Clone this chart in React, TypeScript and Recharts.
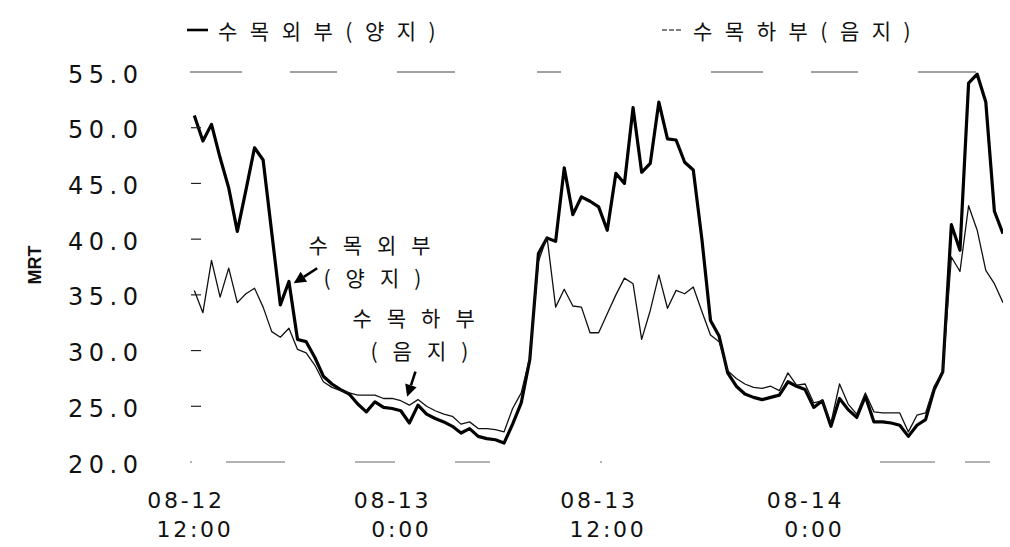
import React from 'react';
import { LineChart, Line, XAxis, YAxis, ReferenceLine, ReferenceDot, Legend } from 'recharts';

// time of first reading (hours after 08-12 0:00) and reading interval (hours)
const START_HOUR = 12.25;
const STEP_HOURS = 0.5;

const seriesNames = ['수목외부(양지)', '수목하부(음지)'];

// 수목외부(양지) MRT
const sunnyOutside = [
  51.1, 48.8, 50.3, 47.3, 44.6, 40.7, 44.4, 48.2, 47.1, 40.6,
  34.1, 36.2, 31.0, 30.8, 29.4, 27.7, 27.0, 26.5, 26.1, 25.2,
  24.5, 25.4, 24.9, 24.8, 24.6, 23.5, 25.1, 24.3, 23.9, 23.6,
  23.2, 22.6, 23.0, 22.3, 22.1, 22.0, 21.7, 23.4, 25.3, 29.2,
  38.7, 40.1, 39.8, 46.4, 42.2, 43.8, 43.4, 42.9, 40.8, 45.9,
  45.0, 51.8, 46.0, 46.8, 52.3, 49.0, 48.9, 46.9, 46.2, 40.0,
  32.7, 31.3, 28.0, 26.8, 26.1, 25.8, 25.6, 25.8, 26.0, 27.2,
  26.8, 26.5, 24.9, 25.5, 23.2, 25.7, 24.7, 24.0, 25.9, 23.6,
  23.6, 23.5, 23.3, 22.3, 23.3, 23.8, 26.5, 28.1, 41.3, 39.0,
  54.0, 54.8, 52.3, 42.5, 40.5,
];

// 수목하부(음지) MRT
const shadeUnder = [
  35.4, 33.4, 38.1, 34.8, 37.4, 34.3, 35.1, 35.6, 33.9, 31.7,
  31.2, 32.0, 30.1, 29.8, 28.7, 27.2, 26.7, 26.4, 26.2, 26.0,
  26.0, 26.0, 25.7, 25.7, 25.5, 25.1, 25.6, 25.0, 24.6, 24.3,
  24.1, 23.4, 23.6, 23.0, 23.0, 22.9, 22.7, 24.8, 26.2, 29.4,
  38.0, 40.2, 33.9, 35.5, 34.0, 33.9, 31.6, 31.6, 33.3, 35.0,
  36.5, 36.0, 31.0, 33.6, 36.8, 33.8, 35.4, 35.1, 35.7, 33.5,
  31.4, 30.8, 28.2, 27.5, 27.0, 26.7, 26.6, 26.8, 26.4, 28.0,
  26.9, 27.0, 25.3, 25.5, 23.5, 27.0, 25.2, 24.3, 26.2, 24.5,
  24.4, 24.4, 24.4, 22.7, 24.2, 24.4, 26.8, 28.1, 38.4, 37.1,
  43.0, 40.8, 37.2, 36.0, 34.3,
];

const xTicks = [12, 24, 36, 48];
const xTickDates = ['08-12', '08-13', '08-13', '08-14'];
const xTickTimes = ['12:00', '0:00', '12:00', '0:00'];
const yTicks = [20, 25, 30, 35, 40, 45, 50, 55];

const data = sunnyOutside.map((v, i) => ({
  t: START_HOUR + STEP_HOURS * i,
  sunny: v,
  shade: shadeUnder[i],
}));

const KO = '"Noto Sans CJK KR", "Noto Sans CJK SC", sans-serif';
const NUM = '"DejaVu Sans", sans-serif';

const YTick = (props: any) => {
  const { x, y, payload } = props;
  const v = payload.value as number;
  return (
    <g>
      <text x={x - 122} y={y} dy={10.5} fontFamily={NUM} fontSize={24} letterSpacing={5.5} fill="#111">
        {v.toFixed(1)}
      </text>
      {v > 20 && v < 55 ? (
        <line x1={x + 1} x2={x + 11} y1={y} y2={y} stroke="#222" strokeWidth={1.2} />
      ) : null}
    </g>
  );
};

const XTick = (props: any) => {
  const { x, y, payload } = props;
  const idx = xTicks.indexOf(payload.value);
  return (
    <g>
      <text x={x - 4} y={y} dy={46} textAnchor="middle" fontFamily={NUM} fontSize={22} letterSpacing={2.7} fill="#111">
        {xTickDates[idx]}
      </text>
      <text x={x + 5} y={y} dy={75} textAnchor="middle" fontFamily={NUM} fontSize={22} letterSpacing={2.7} fill="#111">
        {xTickTimes[idx]}
      </text>
    </g>
  );
};

const legendLeft = [187, 662];

const LegendContent = (props: any) => {
  const payload = props.payload || [];
  return (
    <div style={{ position: 'relative', width: 1010, height: 24 }}>
      {payload.map((p: any, i: number) => (
        <div
          key={i}
          style={{ position: 'absolute', left: legendLeft[i], top: 0, height: 24, display: 'flex', alignItems: 'center' }}
        >
          <svg width={22} height={24} style={{ display: 'block' }}>
            <line
              x1={0}
              x2={21}
              y1={12}
              y2={12}
              stroke="#000"
              strokeWidth={i === 0 ? 2.6 : 1.2}
              strokeDasharray={i === 0 ? undefined : '5 2'}
            />
          </svg>
          <span
            style={{
              marginLeft: 9,
              fontFamily: KO,
              fontSize: 21,
              letterSpacing: 12.5,
              color: '#111',
              whiteSpace: 'nowrap',
              lineHeight: '24px',
            }}
          >
            {p.value}
          </span>
        </div>
      ))}
    </div>
  );
};

const makeText = (text: string, spacing: number) => (p: any) => (
  <text
    x={p.cx}
    y={p.cy}
    fontFamily={KO}
    fontSize={21}
    letterSpacing={spacing}
    dominantBaseline="central"
    fill="#111"
  >
    {text}
  </text>
);

const makeArrow = (dx: number, dy: number) => (p: any) => {
  const { cx, cy } = p;
  const len = Math.hypot(dx, dy);
  const ux = dx / len;
  const uy = dy / len;
  const bx = cx + ux * 12;
  const by = cy + uy * 12;
  const px = -uy;
  const py = ux;
  const pts = `${cx},${cy} ${bx + px * 6},${by + py * 6} ${bx - px * 6},${by - py * 6}`;
  return (
    <g>
      <line x1={bx} y1={by} x2={cx + dx} y2={cy + dy} stroke="#000" strokeWidth={2.6} />
      <polygon points={pts} fill="#000" />
    </g>
  );
};

const annotations = [
  { t: 18.88, v: 39.6, text: '수목외부', spacing: 15 },
  { t: 19.76, v: 36.6, text: '(양지)', spacing: 15 },
  { t: 21.44, v: 33.0, text: '수목하부', spacing: 15 },
  { t: 22.49, v: 30.05, text: '(음지)', spacing: 15 },
];

const arrows = [
  { t: 18.03, v: 36.04, dx: 23.4, dy: -15 },
  { t: 24.62, v: 25.86, dx: 8.3, dy: -25 },
];

const MrtLabel = () => (
  <text
    x={35}
    y={265}
    transform="rotate(-90 35 265)"
    textAnchor="middle"
    dominantBaseline="central"
    fontFamily='"Liberation Sans Narrow", "Liberation Sans", sans-serif'
    fontWeight="bold"
    fontSize={18}
    fill="#111"
  >
    MRT
  </text>
);

export default function App() {
  return (
    <div style={{ position: 'absolute', left: 0, top: 0, width: 1010, height: 547, background: '#fff' }}>
      <LineChart width={1010} height={547} data={data} margin={{ top: 72, right: 7, bottom: 5, left: 0 }}>
        <XAxis
          dataKey="t"
          type="number"
          domain={[12, 59.25]}
          ticks={xTicks}
          allowDataOverflow
          axisLine={false}
          tickLine={false}
          tickSize={0}
          tickMargin={0}
          height={80}
          tick={<XTick />}
          interval={0}
        />
        <YAxis
          type="number"
          domain={[20, 55]}
          ticks={yTicks}
          allowDataOverflow
          axisLine={false}
          tickLine={false}
          tickSize={0}
          tickMargin={0}
          width={190}
          tick={<YTick />}
          interval={0}
          label={<MrtLabel />}
        />
        <ReferenceLine y={55} stroke="#444" strokeWidth={1} strokeDasharray="52 48 47 60 58 82 24 150" />
        <ReferenceLine y={20} stroke="#666" strokeWidth={1} strokeDasharray="2 34 59 70 40 60 35 110 2 278 55 30 25 100" />
        <Line
          dataKey="sunny"
          name={seriesNames[0]}
          stroke="#000"
          strokeWidth={3.2}
          dot={false}
          isAnimationActive={false}
          strokeLinejoin="round"
        />
        <Line
          dataKey="shade"
          name={seriesNames[1]}
          stroke="#111"
          strokeWidth={1.3}
          dot={false}
          isAnimationActive={false}
          strokeLinejoin="round"
        />
        {annotations.map((a, i) => (
          <ReferenceDot key={'a' + i} x={a.t} y={a.v} r={0} shape={makeText(a.text, a.spacing)} ifOverflow="visible" />
        ))}
        {arrows.map((a, i) => (
          <ReferenceDot key={'r' + i} x={a.t} y={a.v} r={0} shape={makeArrow(a.dx, a.dy)} ifOverflow="visible" />
        ))}
        <Legend
          verticalAlign="middle"
          align="center"
          layout="horizontal"
          wrapperStyle={{ top: 18, left: 0, width: 1010, height: 24 }}
          content={<LegendContent />}
        />
      </LineChart>
    </div>
  );
}
